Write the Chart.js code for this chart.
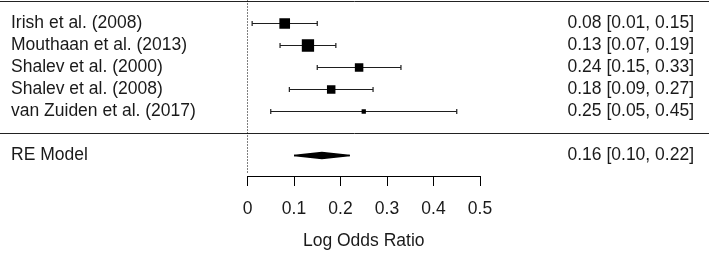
<!DOCTYPE html>
<html><head><meta charset="utf-8">
<script src="https://cdn.jsdelivr.net/npm/chart.js@4/dist/chart.umd.min.js"></script>
<style>html,body{margin:0;padding:0;background:#fff;overflow:hidden;}</style>
</head><body>
<canvas id="c" width="709" height="253" style="display:block;width:709px;height:253px"></canvas>
<script>
// ---- data ----
const studies = ['Irish et al. (2008)', 'Mouthaan et al. (2013)', 'Shalev et al. (2000)', 'Shalev et al. (2008)', 'van Zuiden et al. (2017)'];
const estimates = [0.08, 0.13, 0.24, 0.18, 0.25];
const lowerCI = [0.01, 0.07, 0.15, 0.09, 0.05];
const upperCI = [0.15, 0.19, 0.33, 0.27, 0.45];
const weights = [27.1, 36.9, 16.4, 16.4, 3.3];   // study weights (%)
const summaryLabel = 'RE Model';
const summaryEstimate = [0.16];
const summaryLower = [0.10];
const summaryUpper = [0.22];
const xTickValues = [0, 0.1, 0.2, 0.3, 0.4, 0.5];
const xTickLabels = ['0', '0.1', '0.2', '0.3', '0.4', '0.5'];
const xTitle = 'Log Odds Ratio';

// ---- layout / style ----
const FONT = "'Liberation Sans', Arial, Helvetica, sans-serif";
const TXT = '#1a1a1a';
const FS = 17.5;
const k = studies.length;
const rows = studies.map((_, i) => k - i);        // 5..1
const summaryRow = -1;
const yMax = k + 1 + 1.5 / 22;
const yMin = yMax - 8;
const fmt = v => v.toFixed(2);
const ciText = (e, l, u) => fmt(e) + ' [' + fmt(l) + ', ' + fmt(u) + ']';

const leftLabels = {}, rightLabels = {};
rows.forEach((r, i) => { leftLabels[r] = studies[i]; rightLabels[r] = ciText(estimates[i], lowerCI[i], upperCI[i]); });
leftLabels[summaryRow] = summaryLabel;
rightLabels[summaryRow] = ciText(summaryEstimate[0], summaryLower[0], summaryUpper[0]);
const labelRows = rows.concat([summaryRow]);

const boxRadius = w => (0.87 + 1.88 * Math.sqrt(w)) / Math.SQRT2;

const datasets = [];
// confidence intervals
rows.forEach((r, i) => {
  datasets.push({
    data: [{x: lowerCI[i], y: r}, {x: upperCI[i], y: r}],
    showLine: true, borderColor: '#1e1e1e', borderWidth: 1.2,
    pointStyle: 'line', rotation: 90, pointRadius: 2.5, pointBorderColor: '#1e1e1e',
    pointBorderWidth: 1.2, pointHoverRadius: 2.5, order: 2
  });
});
// study boxes
datasets.push({
  data: rows.map((r, i) => ({x: estimates[i], y: r})),
  showLine: false, pointStyle: 'rect',
  pointRadius: weights.map(boxRadius), pointHoverRadius: weights.map(boxRadius),
  backgroundColor: '#000', pointBackgroundColor: '#000', pointBorderWidth: 0, order: 1
});
// summary diamond (upper + lower halves, filled between)
const dh = 3 / 22;
datasets.push({
  data: [{x: summaryLower[0], y: summaryRow}, {x: summaryEstimate[0], y: summaryRow + dh}, {x: summaryUpper[0], y: summaryRow}],
  showLine: true, borderColor: '#000', borderWidth: 1.5, backgroundColor: '#000',
  pointRadius: 0, fill: '+1', order: 1
});
datasets.push({
  data: [{x: summaryLower[0], y: summaryRow}, {x: summaryEstimate[0], y: summaryRow - dh}, {x: summaryUpper[0], y: summaryRow}],
  showLine: true, borderColor: '#000', borderWidth: 1.5, backgroundColor: '#000',
  pointRadius: 0, fill: false, order: 1
});
// reference line at 0
datasets.push({
  data: [{x: 0, y: yMax}, {x: 0, y: yMin + 0.1}],
  showLine: true, borderColor: '#000', borderWidth: 1, borderDash: [2, 1],
  pointRadius: 0, fill: false, order: 3
});

const rulesPlugin = {
  id: 'rules',
  beforeDatasetsDraw(chart) {
    const ctx = chart.ctx, ys = chart.scales.y;
    ctx.save();
    ctx.strokeStyle = '#222';
    ctx.lineWidth = 1;
    [k + 1, 0].forEach(v => {
      const p = Math.floor(ys.getPixelForValue(v)) + 0.5;
      ctx.beginPath(); ctx.moveTo(0, p); ctx.lineTo(chart.width, p); ctx.stroke();
    });
    ctx.restore();
  }
};

const noPad = s => { s.paddingTop = 0; s.paddingBottom = 0; s.paddingLeft = 0; s.paddingRight = 0; };

new Chart(document.getElementById('c'), {
  type: 'scatter',
  data: {datasets},
  plugins: [rulesPlugin],
  options: {
    responsive: false, animation: false, devicePixelRatio: 1, events: [],
    layout: {autoPadding: false, padding: {left: 11, right: 15, top: 0, bottom: 0}},
    plugins: {legend: {display: false}, tooltip: {enabled: false}},
    scales: {
      x: {
        type: 'linear', position: 'bottom', min: 0, max: 0.5,
        afterBuildTicks: s => { s.ticks = xTickValues.map(v => ({value: v})); },
        afterFit: s => { s.height = 77; noPad(s); },
        ticks: {autoSkip: false, maxRotation: 0, padding: 13, color: TXT,
                font: {family: FONT, size: FS}, callback: (v, i) => xTickLabels[i]},
        grid: {drawOnChartArea: false, drawTicks: true, tickLength: 10, color: '#000', lineWidth: 1},
        border: {display: true, color: '#000', width: 1},
        title: {display: true, text: xTitle, color: TXT, font: {family: FONT, size: FS},
                padding: {top: 0, bottom: 1}}
      },
      y: {
        type: 'linear', position: 'left', min: yMin, max: yMax,
        afterBuildTicks: s => { s.ticks = labelRows.map(v => ({value: v})); },
        afterFit: s => { s.width = 236.5; noPad(s); },
        ticks: {autoSkip: false, crossAlign: 'far', padding: 0, color: TXT,
                font: {family: FONT, size: FS}, callback: v => leftLabels[v]},
        grid: {display: false}, border: {display: false}
      },
      y2: {
        type: 'linear', position: 'right', min: yMin, max: yMax,
        afterBuildTicks: s => { s.ticks = labelRows.map(v => ({value: v})); },
        afterFit: s => { s.width = 214; noPad(s); },
        ticks: {autoSkip: false, crossAlign: 'far', padding: 0, color: TXT,
                font: {family: FONT, size: FS}, callback: v => rightLabels[v]},
        grid: {display: false}, border: {display: false}
      }
    }
  }
});
</script>
</body></html>
